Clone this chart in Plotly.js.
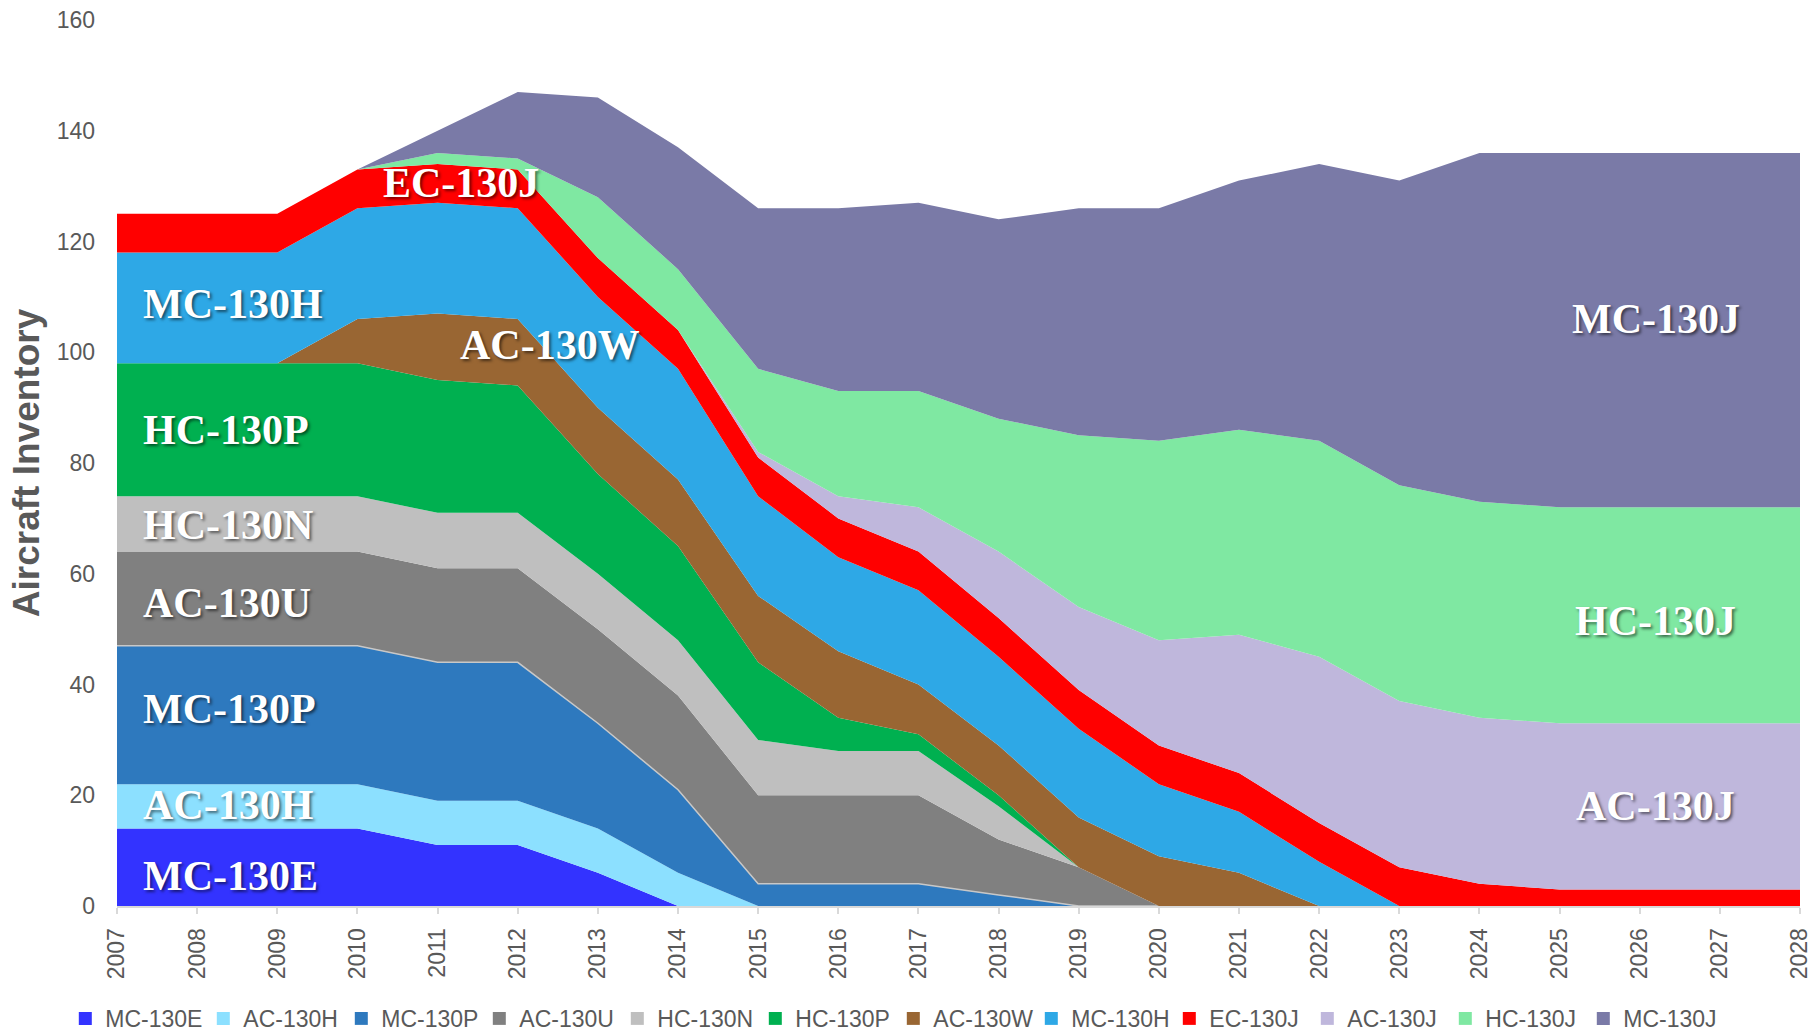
<!DOCTYPE html>
<html><head><meta charset="utf-8">
<script src="https://cdn.plot.ly/plotly-3.0.1.min.js"></script>
<style>html,body{margin:0;padding:0;background:#fff}#chart{width:1814px;height:1035px}</style>
</head><body><div id="chart"></div>
<script>
const years = [2007,2008,2009,2010,2011,2012,2013,2014,2015,2016,2017,2018,2019,2020,2021,2022,2023,2024,2025,2026,2027,2028];
const MC130E = [14,14,14,14,11,11,6,0,0,0,0,0,0,0,0,0,0,0,0,0,0,0];
const AC130H = [8,8,8,8,8,8,8,6,0,0,0,0,0,0,0,0,0,0,0,0,0,0];
const MC130P = [25,25,25,25,25,25,19,15,4,4,4,2,0,0,0,0,0,0,0,0,0,0];
const AC130U = [17,17,17,17,17,17,17,17,16,16,16,10,7,0,0,0,0,0,0,0,0,0];
const HC130N = [10,10,10,10,10,10,10,10,10,8,8,6,0,0,0,0,0,0,0,0,0,0];
const HC130P = [24,24,24,24,24,23,18,17,14,6,3,2,0,0,0,0,0,0,0,0,0,0];
const AC130W = [0,0,0,8,12,12,12,12,12,12,9,9,9,9,6,0,0,0,0,0,0,0];
const MC130H = [20,20,20,20,20,20,20,20,18,17,17,16,16,13,11,8,0,0,0,0,0,0];
const EC130J = [7,7,7,7,7,7,7,7,7,7,7,7,7,7,7,7,7,4,3,3,3,3];
const AC130J = [0,0,0,0,0,0,0,0,1,4,8,12,15,19,25,30,30,30,30,30,30,30];
const HC130J = [0,0,0,0,2,2,11,11,15,19,21,24,31,36,37,39,39,39,39,39,39,39];
const MC130J = [0,0,0,0,4,12,18,22,29,33,34,36,41,42,45,50,55,63,64,64,64,64];

const seriesNames = ['MC-130E','AC-130H','MC-130P','AC-130U','HC-130N','HC-130P','AC-130W','MC-130H','EC-130J','AC-130J','HC-130J','MC-130J'];
const seriesValues = [MC130E,AC130H,MC130P,AC130U,HC130N,HC130P,AC130W,MC130H,EC130J,AC130J,HC130J,MC130J];
const seriesColors = ['#3333FF','#8CE0FF','#2E79BE','#808080','#BFBFBF','#00B050','#996633','#2EA8E6','#FF0000','#BFB7DC','#7FE8A2','#7A7AA7'];

// area label annotations
const labelText = ['MC-130E','AC-130H','MC-130P','AC-130U','HC-130N','HC-130P','AC-130W','MC-130H','EC-130J','AC-130J','HC-130J','MC-130J'];
const labelX = [2007.3,2007.3,2007.3,2007.3,2007.3,2007.3,2011.26,2007.3,2010.29,2026.2,2026.2,2026.2];
const labelY = [5.4,18.2,35.6,54.7,68.8,86,101.3,108.7,130.6,18,51.5,106];
const labelAnchor = ['left','left','left','left','left','left','left','left','left','center','center','center'];

const traces = [];
seriesNames.forEach((n,i)=>{
  traces.push({
    x: years, y: seriesValues[i], name: n, type:'scatter', mode:'lines',
    stackgroup:'one', fillcolor: seriesColors[i],
    line:{width: n==='MC-130P'?1.5:0, color: n==='MC-130P'?'#C8C8C8':seriesColors[i]},
    showlegend:false, hoverinfo:'x+y+name'
  });
});
seriesNames.forEach((n,i)=>{
  traces.push({
    x:[null], y:[null], name:n, type:'scatter', mode:'markers',
    marker:{symbol:'square', size:13, color:seriesColors[i]},
    showlegend:true, hoverinfo:'skip'
  });
});

const annotations = labelText.map((t,i)=>({
  x: labelX[i], y: labelY[i], xref:'x', yref:'y', text:'<b>'+t+'</b>',
  showarrow:false, xanchor: labelAnchor[i], yanchor:'middle',
  font:{family:'Liberation Serif, Times New Roman, serif', size:42, color:'#ffffff',
        shadow:'2px 2px 3px rgba(0,0,0,0.55)'}
}));

const tickFont = {family:'Liberation Sans, Arial, sans-serif', size:23, color:'#595959'};

const layout = {
  width:1814, height:1035,
  margin:{l:117, r:14, t:20, b:129},
  paper_bgcolor:'#ffffff', plot_bgcolor:'#ffffff',
  showlegend:true,
  xaxis:{
    range:[2007,2028], tickmode:'array', tickvals:years, ticktext:years.map(String),
    tickangle:-90, tickfont:tickFont, ticks:'outside', ticklen:6, tickcolor:'#D9D9D9', tickwidth:2,
    ticklabelstandoff:5, automargin:false,
    showline:true, linecolor:'#D9D9D9', linewidth:2, showgrid:false, zeroline:false, fixedrange:true
  },
  yaxis:{
    range:[0,160], dtick:20, tickfont:tickFont, showgrid:false, zeroline:false, showline:false,
    ticks:'', ticklabelstandoff:21, automargin:false,
    title:{text:'<b>Aircraft Inventory</b>', font:{family:'Liberation Sans, Arial, sans-serif', size:37, color:'#595959'}, standoff:5}
  },
  legend:{
    orientation:'h', traceorder:'normal',
    xref:'container', yref:'container', x:0.036, xanchor:'left', y:0.016, yanchor:'middle',
    font:{family:'Liberation Sans, Arial, sans-serif', size:23, color:'#595959'},
    itemwidth:30, tracegroupgap:0, entrywidth:93, entrywidthmode:'pixels'
  },
  annotations: annotations
};

Plotly.newPlot('chart', traces, layout, {displayModeBar:false, staticPlot:true});
</script>
</body></html>
